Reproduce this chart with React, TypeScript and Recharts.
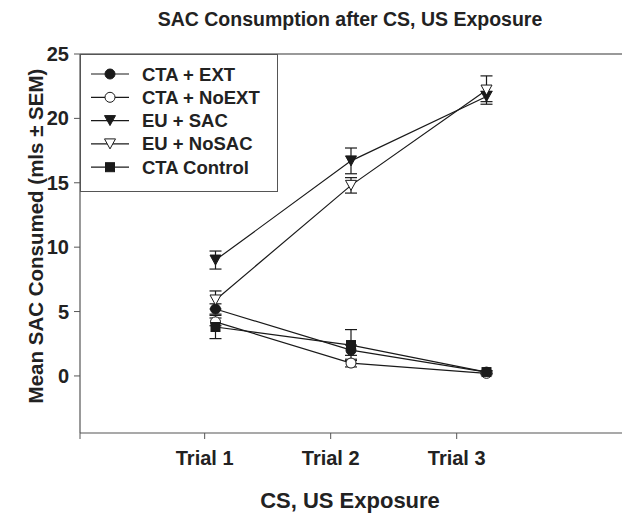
import React from 'react';
import {
  LineChart,
  Line,
  XAxis,
  YAxis,
  ErrorBar,
  ReferenceLine,
} from 'recharts';

// Trial positions and tick labels
const trials = [1, 2, 3];
const xTickPos = [0, 0.92, 1.85, 2.78];
const xTickLabels = ['', 'Trial 1', 'Trial 2', 'Trial 3'];
const yTicks = [0, 5, 10, 15, 20, 25];

// Means and SEMs per group
const ctaExt = [5.2, 2.0, 0.3];
const ctaExtSem = [0.4, 0.4, 0.1];
const ctaNoExt = [4.2, 1.0, 0.2];
const ctaNoExtSem = [0.3, 0.3, 0.1];
const euSac = [9.0, 16.7, 21.7];
const euSacSem = [0.7, 1.0, 0.4];
const euNoSac = [5.9, 14.8, 22.2];
const euNoSacSem = [0.7, 0.6, 1.1];
const ctaControl = [3.8, 2.4, 0.3];
const ctaControlSem = [0.9, 1.2, 0.1];

const INK = '#1a1a1a';
const AXIS = '#555';
const FONT = '"Liberation Sans", Arial, sans-serif';

type Shape = 'circle' | 'openCircle' | 'tri' | 'openTri' | 'square';

const series: { key: string; name: string; shape: Shape; values: number[]; sem: number[] }[] = [
  { key: 'ctaExt', name: 'CTA + EXT', shape: 'circle', values: ctaExt, sem: ctaExtSem },
  { key: 'ctaNoExt', name: 'CTA + NoEXT', shape: 'openCircle', values: ctaNoExt, sem: ctaNoExtSem },
  { key: 'euSac', name: 'EU + SAC', shape: 'tri', values: euSac, sem: euSacSem },
  { key: 'euNoSac', name: 'EU + NoSAC', shape: 'openTri', values: euNoSac, sem: euNoSacSem },
  { key: 'ctaControl', name: 'CTA Control', shape: 'square', values: ctaControl, sem: ctaControlSem },
];

const data = trials.map((t, i) => {
  const row: any = { x: t };
  series.forEach((s) => {
    row[s.key] = s.values[i];
    row[s.key + 'Err'] = s.sem[i];
  });
  return row;
});

const Marker = ({ shape, cx, cy }: { shape: Shape; cx: number; cy: number }) => {
  switch (shape) {
    case 'circle':
      return <circle cx={cx} cy={cy} r={5} fill={INK} stroke={INK} strokeWidth={1} />;
    case 'openCircle':
      return <circle cx={cx} cy={cy} r={5} fill="#fff" stroke={INK} strokeWidth={1} />;
    case 'tri':
      return (
        <path d={`M${cx - 5.5},${cy - 5} L${cx + 5.5},${cy - 5} L${cx},${cy + 5} Z`} fill={INK} stroke={INK} strokeWidth={1} />
      );
    case 'openTri':
      return (
        <path d={`M${cx - 5.5},${cy - 5} L${cx + 5.5},${cy - 5} L${cx},${cy + 5} Z`} fill="#fff" stroke={INK} strokeWidth={1} />
      );
    default:
      return <rect x={cx - 4.5} y={cy - 4.5} width={9} height={9} fill={INK} stroke={INK} strokeWidth={1} />;
  }
};

const Overlay = () => (
  <svg
    width={623}
    height={515}
    style={{ position: 'absolute', left: 0, top: 0, pointerEvents: 'none', fontFamily: FONT }}
  >
    <text x={350} y={26} textAnchor="middle" fontSize={19.5} fontWeight="bold" fill="#222">
      SAC Consumption after CS, US Exposure
    </text>
    <text
      transform="translate(43,236) rotate(-90)"
      textAnchor="middle"
      fontSize={20.5}
      fontWeight="bold"
      fill="#222"
    >
      Mean SAC Consumed (mls ± SEM)
    </text>
    <text x={350} y={508} textAnchor="middle" fontSize={22} fontWeight="bold" fill="#222">
      CS, US Exposure
    </text>
    {/* legend box */}
    <g transform="translate(80,54)">
      <rect x={0.5} y={0.5} width={197} height={137} fill="#fff" stroke={AXIS} strokeWidth={1} />
      {series.map((s, i) => {
        const y = 20 + i * 23.3;
        return (
          <g key={s.key}>
            <line x1={11} x2={49} y1={y} y2={y} stroke={INK} strokeWidth={1.2} />
            <Marker shape={s.shape} cx={30} cy={y} />
            <text x={62} y={y + 6.5} fontSize={18.5} fontWeight="bold" fill="#222">
              {s.name}
            </text>
          </g>
        );
      })}
    </g>
  </svg>
);

export default function App() {
  return (
    <div style={{ position: 'absolute', left: 0, top: 0, width: 623, height: 515, background: '#fff' }}>
      <LineChart width={623} height={515} data={data} margin={{ top: 54, right: 1, bottom: 0, left: 0 }}>
        <XAxis
          dataKey="x"
          type="number"
          domain={[0, 4]}
          ticks={xTickPos}
          tickFormatter={(v: number) => xTickLabels[xTickPos.indexOf(v)] ?? ''}
          height={82}
          stroke={AXIS}
          tickSize={6}
          tickMargin={12}
          tick={{ fill: '#222', fontSize: 20, fontWeight: 'bold', fontFamily: FONT }}
          axisLine={{ stroke: AXIS, strokeWidth: 1.2 }}
          interval={0}
        />
        <YAxis
          type="number"
          domain={[-4.43, 25]}
          ticks={yTicks}
          allowDataOverflow
          width={80}
          stroke={AXIS}
          tickSize={6}
          tickMargin={5}
          tick={{ fill: '#222', fontSize: 20, fontWeight: 'bold', fontFamily: FONT }}
          axisLine={{ stroke: AXIS, strokeWidth: 1.2 }}
          interval={0}
        />
        <ReferenceLine y={25} stroke="#777" strokeWidth={1.5} />
        {series.map((s) => (
          <Line
            key={s.key}
            dataKey={s.key}
            name={s.name}
            stroke={INK}
            strokeWidth={1.2}
            isAnimationActive={false}
            dot={(p: any) => <Marker key={`${s.key}-${p.index}`} shape={s.shape} cx={p.cx} cy={p.cy} />}
            activeDot={false}
          >
            <ErrorBar dataKey={s.key + 'Err'} width={6} stroke={INK} strokeWidth={1.2} direction="y" isAnimationActive={false} />
          </Line>
        ))}
      </LineChart>
      <Overlay />
    </div>
  );
}
